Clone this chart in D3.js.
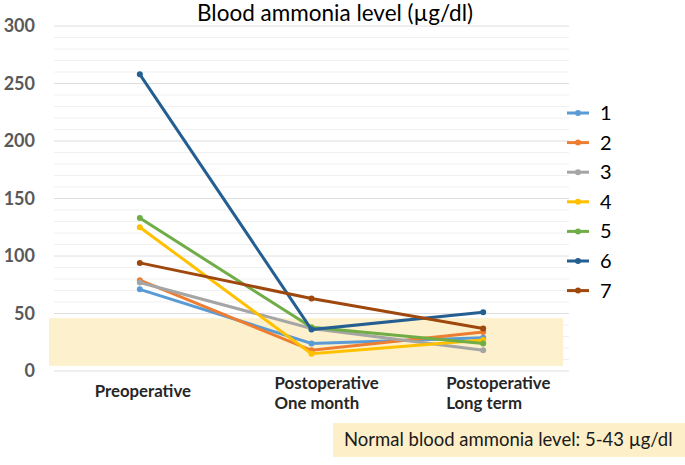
<!DOCTYPE html>
<html>
<head>
<meta charset="utf-8">
<script src="https://cdn.jsdelivr.net/npm/d3@7"></script>
<style>
  body { margin: 0; background: #fff; }
  text { font-family: Lato, "Open Sans", sans-serif; }
</style>
</head>
<body>
<svg id="chart" width="685" height="465"></svg>
<script>
// categories and values
var categories = ['Preoperative', 'Postoperative\nOne month', 'Postoperative\nLong term'];
var patients = ['1', '2', '3', '4', '5', '6', '7'];
var values = [
  [71, 24, 29],
  [79, 18, 34],
  [77, 37, 18],
  [125, 15, 27],
  [133, 38, 24],
  [258, 36, 51],
  [94, 63, 37]
];
var colors = ['#5b9bd5', '#ed7d31', '#a5a5a5', '#ffc000', '#70ad47', '#255e91', '#9e480e'];
var yTicks = [0, 50, 100, 150, 200, 250, 300];
var normalRange = [4.5, 46];

var svg = d3.select('#chart');

var x = d3.scaleBand().domain(categories).range([54, 569]);
var y = d3.scaleLinear().domain([0, 300]).range([371, 26]);

//minor grid every 10
svg.append('g')
    .selectAll('line')
    .data(d3.range(10, 300, 10).filter(function(d) { return d % 50 != 0; }))
    .join('line')
    .attr('x1', x.range()[0]).attr('x2', x.range()[1])
    .attr('y1', function(d) { return y(d); })
    .attr('y2', function(d) { return y(d); })
    .attr('stroke', '#f0f0f0')
    .attr('stroke-width', 1);

//major grid
svg.append('g')
    .selectAll('line')
    .data(yTicks)
    .join('line')
    .attr('x1', x.range()[0]).attr('x2', x.range()[1])
    .attr('y1', function(d) { return y(d); })
    .attr('y2', function(d) { return y(d); })
    .attr('stroke', '#dedede')
    .attr('stroke-width', 1);

//normal range band
svg.append('rect')
    .attr('x', x.range()[0] - 5)
    .attr('width', x.range()[1] - x.range()[0] - 1)
    .attr('y', y(normalRange[1]))
    .attr('height', y(normalRange[0]) - y(normalRange[1]))
    .attr('fill', '#fdefc8')
    .attr('opacity', 0.9);

//y labels
var yAxis = d3.axisLeft(y).tickValues(yTicks).tickSize(0).tickPadding(0);
svg.append('g')
    .attr('transform', 'translate(35,0)')
    .call(yAxis)
    .call(function(g) {
        g.select('.domain').remove();
        g.selectAll('text')
            .attr('fill', '#595959')
            .attr('font-size', 18)
            .attr('font-weight', 'bold')
            .attr('font-family', 'Lato, sans-serif');
    });

//x labels
var xLabels = svg.append('g').selectAll('text')
    .data(categories)
    .join('text')
    .attr('font-size', 16.8)
    .attr('font-weight', 'bold')
    .attr('fill', '#262626')
    .attr('text-anchor', 'start');

xLabels.each(function(d) {
    var lines = d.split('\n');
    var t = d3.select(this);
    var cx = x(d) + x.bandwidth() / 2;
    var top = lines.length == 1 ? 397 : 389;
    lines.forEach(function(l, i) {
        t.append('tspan')
            .attr('x', cx - 37)
            .attr('y', top + i * 20)
            .text(l);
    });
});
// center the single line label
xLabels.filter(function(d) { return d.indexOf('\n') < 0; })
    .attr('text-anchor', 'middle')
    .selectAll('tspan').attr('x', function() { return x(categories[0]) + x.bandwidth() / 2 + 3; });

//lines
var line = d3.line()
    .x(function(d, i) { return x(categories[i]) + x.bandwidth() / 2; })
    .y(function(d) { return y(d); });

var series = svg.append('g').selectAll('g')
    .data(values)
    .join('g');

series.append('path')
    .attr('d', function(d) { return line(d); })
    .attr('fill', 'none')
    .attr('stroke', function(d, i) { return colors[i]; })
    .attr('stroke-width', 3);

series.each(function(d, i) {
    d3.select(this).selectAll('circle')
        .data(d)
        .join('circle')
        .attr('cx', function(v, j) { return x(categories[j]) + x.bandwidth() / 2; })
        .attr('cy', function(v) { return y(v); })
        .attr('r', 3)
        .attr('fill', colors[i]);
});

//title
svg.append('text')
    .attr('x', 335)
    .attr('y', 21)
    .attr('text-anchor', 'middle')
    .attr('font-size', 22.5)
    .attr('fill', '#000')
    .text('Blood ammonia level (\u00b5g/dl)');

//legend
var legend = svg.append('g').selectAll('g')
    .data(patients)
    .join('g')
    .attr('transform', function(d, i) { return 'translate(567,' + (113 + i * 29.6) + ')'; });

legend.append('line')
    .attr('x1', 0).attr('x2', 22)
    .attr('stroke', function(d, i) { return colors[i]; })
    .attr('stroke-width', 3);
legend.append('circle')
    .attr('cx', 11).attr('r', 3)
    .attr('fill', function(d, i) { return colors[i]; });
legend.append('text')
    .attr('x', 33)
    .attr('y', 7)
    .attr('font-size', 20)
    .attr('fill', '#000')
    .text(function(d) { return d; });

//note box
svg.append('rect')
    .attr('x', 333).attr('y', 423)
    .attr('width', 352).attr('height', 34)
    .attr('fill', '#fdefc8');
svg.append('text')
    .attr('x', 344)
    .attr('y', 446)
    .attr('font-size', 18.5)
    .attr('fill', '#1a1a1a')
    .text('Normal blood ammonia level: 5-43 \u00b5g/dl');
</script>
</body>
</html>
